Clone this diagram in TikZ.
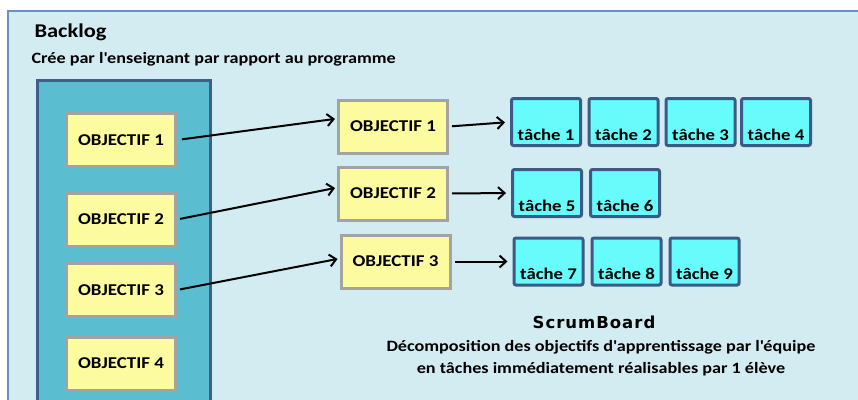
\documentclass[tikz,border=0pt]{standalone}
\usepackage{fontspec}
\setmainfont{Carlito}[FakeStretch=1.15]
\newfontfamily\scrumfont{DejaVu Sans}
\usetikzlibrary{arrows.meta}
\definecolor{panelfill}{HTML}{D3ECF1}
\definecolor{panelline}{HTML}{6C8FC7}
\definecolor{colfill}{HTML}{5BBED0}
\definecolor{colline}{HTML}{3D5F8A}
\definecolor{objfill}{HTML}{FDFB9F}
\definecolor{objline}{HTML}{A3A3A0}
\definecolor{taskfill}{HTML}{68FBFB}
\definecolor{taskline}{HTML}{3B5A85}
\tikzset{
  objbox/.style={draw=objline, line width=3pt, fill=objfill, minimum width=109pt, minimum height=53pt, inner sep=0pt, font=\fontsize{16.5}{18}\selectfont\bfseries},
  taskbox/.style={draw=taskline, line width=3pt, fill=taskfill, rounded corners=2pt, minimum width=69pt, minimum height=47pt, inner sep=0pt, text height=36pt, text depth=0pt, font=\fontsize{16.3}{18}\selectfont\bfseries},
  link/.style={line width=2pt, -{Straight Barb[length=6.5pt,width=12pt,line width=2pt]}},
  body/.style={font=\fontsize{15.8}{18}\selectfont\bfseries}
}
\begin{document}
\begin{tikzpicture}[x=1pt,y=-1pt]
\useasboundingbox (0,0) rectangle (858,399);
\begin{scope}
\clip (0,0) rectangle (858,399);
\fill[panelfill] (8,11) rectangle (862,403);
\draw[panelline, line width=1.5pt] (8,403) -- (8,11) -- (862,11);
\draw[colline, fill=colfill, line width=3pt] (37,80) rectangle (210,410);
\end{scope}
\node[anchor=base west, font=\fontsize{19.5}{22}\selectfont\bfseries] (title) at (31,37) {Backlog};
\node[anchor=base west, body] (sub) at (28,63) {Crée par l\textquotesingle enseignant par rapport au programme};

\node[objbox] (o1) at (121,140) {OBJECTIF 1};
\node[objbox] (o2) at (121,219.5) {OBJECTIF 2};
\node[objbox] (o3) at (121,290) {OBJECTIF 3};
\node[objbox] (o4) at (121,363.5) {OBJECTIF 4};

\node[objbox] (m1) at (393,126.5) {OBJECTIF 1};
\node[objbox] (m2) at (393,193.5) {OBJECTIF 2};
\node[objbox] (m3) at (395.5,261.5) {OBJECTIF 3};

\node[taskbox] (t1) at (546,122) {tâche 1};
\node[taskbox] (t2) at (623.5,122) {tâche 2};
\node[taskbox] (t3) at (700.5,122) {tâche 3};
\node[taskbox] (t4) at (776,122) {tâche 4};
\node[taskbox] (t5) at (547,193) {tâche 5};
\node[taskbox] (t6) at (625,193) {tâche 6};
\node[taskbox] (t7) at (548.5,261.5) {tâche 7};
\node[taskbox] (t8) at (626.5,261.5) {tâche 8};
\node[taskbox] (t9) at (704.5,261.5) {tâche 9};

\draw[link, shorten <=5pt, shorten >=2pt] (o1.east) -- (m1.172);
\draw[link, shorten <=3pt, shorten >=2pt] (o2.east) -- (m2.174);
\draw[link, shorten <=3pt, shorten >=2pt] (o3.east) -- (m3.177);
\draw[link, shorten <=3pt, shorten >=5pt] (m1.east) -- (t1.west);
\draw[link, shorten <=3pt, shorten >=5pt] (m2.east) -- (t5.west);
\draw[link, shorten <=3pt, shorten >=5pt] (m3.east) -- (t7.west);

\node[anchor=base, font=\fontsize{16.5}{19}\scrumfont\bfseries\addfontfeature{LetterSpace=6}] (sb) at (594,328) {ScrumBoard};
\node[anchor=base, body] (d1) at (601,351) {Décomposition des objectifs d\textquotesingle apprentissage par l\textquotesingle équipe};
\node[anchor=base, body] (d2) at (601,373) {en tâches immédiatement réalisables par 1 élève};
\end{tikzpicture}
\end{document}
